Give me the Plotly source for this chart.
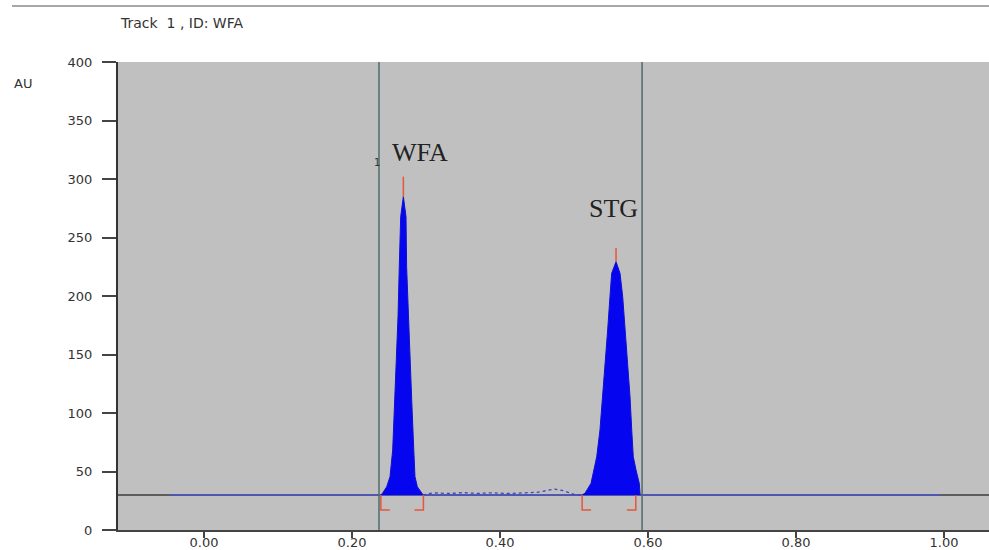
import plotly.graph_objects as go

# ---- data ----
baseline_level = 30
baseline_x = [-0.046, 0.995]

wfa_x = [0.239, 0.2415, 0.2469, 0.2514, 0.2550, 0.2577, 0.2604, 0.2622, 0.2639, 0.2658, 0.2694,
         0.2730, 0.2738, 0.2761, 0.2784, 0.2807, 0.2835, 0.2851, 0.2883, 0.2934, 0.296]
wfa_y = [30, 31.6, 37.0, 45.6, 68.4, 111, 139.6, 182.3, 225, 267.8, 285,
         267.8, 225, 182.3, 139.6, 111, 68.4, 45.6, 37.0, 31.6, 30]

stg_x = [0.511, 0.5149, 0.5230, 0.5274, 0.5307, 0.5351, 0.5388, 0.5419, 0.5455, 0.5486, 0.5509, 0.5568,
         0.5622, 0.5658, 0.5693, 0.5726, 0.5757, 0.5780, 0.5801, 0.5838, 0.5882, 0.5892, 0.5895]
stg_y = [30, 31.4, 39.9, 51.3, 62.6, 85.5, 113.9, 142.5, 170.9, 199.4, 219.4, 229.3,
         219.4, 199.4, 170.9, 142.5, 113.9, 85.5, 62.6, 51.3, 39.9, 31.4, 30]

noise_x = [0.296, 0.31, 0.33, 0.35, 0.37, 0.39, 0.41, 0.43, 0.45, 0.462, 0.474, 0.486, 0.495, 0.503, 0.511]
noise_y = [30, 31.8, 31.2, 31.9, 31.3, 31.8, 31.2, 31.9, 32.2, 33.6, 35.0, 33.5, 31.2, 29.8, 30]

window_x = [0.2365, 0.592]

peak_names = ["WFA", "STG"]
peak_pos = [0.2694, 0.5568]
peak_top = [285, 229.3]
peak_mark = [302, 241]
label_x = [0.292, 0.554]
label_y = [323, 275]

bracket_start = [0.239, 0.511]
bracket_end = [0.2965, 0.5835]
bracket_low = 17

x_ticks = [0.0, 0.2, 0.4, 0.6, 0.8, 1.0]
x_ticktext = ["0.00", "0.20", "0.40", "0.60", "0.80", "1.00"]
y_ticks = [0, 50, 100, 150, 200, 250, 300, 350, 400]

BLUE_FILL = "#0505f0"
BLUE_LINE = "#4a55e0"
RED = "#e6553c"
GRID_DARK = "#3c3c3c"
WIN = "#4e6c6c"
TXT = "#333333"
SANS = "DejaVu Sans"

fig = go.Figure()

# dark baseline across whole plot
fig.add_trace(go.Scatter(x=[-0.2, 1.2], y=[baseline_level, baseline_level], mode="lines",
                         line=dict(color=GRID_DARK, width=1.5), hoverinfo="skip", showlegend=False))
# blue signal baseline
fig.add_trace(go.Scatter(x=baseline_x, y=[baseline_level, baseline_level], mode="lines",
                         line=dict(color=BLUE_LINE, width=1.3), showlegend=False))
# noise between peaks
fig.add_trace(go.Scatter(x=noise_x, y=noise_y, mode="lines",
                         line=dict(color="#3a45c8", width=1.3, dash="dot"), showlegend=False))
# peaks
for px_, py_ in [(wfa_x, wfa_y), (stg_x, stg_y)]:
    fig.add_trace(go.Scatter(x=px_, y=py_, mode="lines", fill="toself", fillcolor=BLUE_FILL,
                             line=dict(color="#1010d0", width=1), showlegend=False))

# window lines
for wx in window_x:
    fig.add_shape(type="line", xref="x", yref="y", x0=wx, x1=wx, y0=0, y1=400,
                  line=dict(color=WIN, width=1.5))

# red peak marks
for p, t, m in zip(peak_pos, peak_top, peak_mark):
    fig.add_trace(go.Scatter(x=[p, p], y=[t, m], mode="lines",
                             line=dict(color=RED, width=1.5), showlegend=False))

# red brackets
for s, e in zip(bracket_start, bracket_end):
    fig.add_trace(go.Scatter(x=[s, s, s + 0.012], y=[baseline_level, bracket_low, bracket_low],
                             mode="lines", line=dict(color=RED, width=1.5), showlegend=False))
    fig.add_trace(go.Scatter(x=[e, e, e - 0.012], y=[baseline_level, bracket_low, bracket_low],
                             mode="lines", line=dict(color=RED, width=1.5), showlegend=False))

# peak labels
for n, lx, ly in zip(peak_names, label_x, label_y):
    fig.add_annotation(x=lx, y=ly, xref="x", yref="y", text=n, showarrow=False,
                       font=dict(family="Liberation Serif", size=26, color="#222222"))
fig.add_annotation(x=0.234, y=314, xref="x", yref="y", text="1", showarrow=False,
                   font=dict(family=SANS, size=10, color=TXT))

# title and axis unit
fig.add_annotation(x=0, y=1.083, xref="paper", yref="paper", text="Track  1 , ID: WFA",
                   showarrow=False, xanchor="left", yanchor="middle",
                   font=dict(family=SANS, size=14, color=TXT))
fig.add_annotation(x=-0.1217, y=0.955, xref="paper", yref="paper", text="AU",
                   showarrow=False, xanchor="left", yanchor="middle",
                   font=dict(family=SANS, size=13, color=TXT))
fig.add_shape(type="line", xref="paper", yref="paper", x0=-0.1217, x1=1, y0=1.1197, y1=1.1197,
              line=dict(color="#8a8a8a", width=1.5))

fig.update_layout(
    width=989, height=550,
    margin=dict(l=118, r=0, t=62, b=20, autoexpand=False),
    paper_bgcolor="white", plot_bgcolor="#c0c0c0",
    showlegend=False,
    xaxis=dict(range=[-0.1162, 1.0608], tickvals=x_ticks, ticktext=x_ticktext, automargin=False,
               showgrid=False, zeroline=False, showline=True, linecolor="#444444", linewidth=2,
               ticks="outside", ticklen=6, tickcolor="#444444", tickwidth=1.5,
               ticklabelstandoff=-7,
               tickfont=dict(family=SANS, size=13, color=TXT)),
    yaxis=dict(range=[0, 400], tickvals=y_ticks, automargin=False,
               showgrid=False, zeroline=False, showline=True, linecolor="#333333", linewidth=2,
               ticks="outside", ticklen=14, tickcolor="#444444", tickwidth=1.5,
               ticklabelstandoff=7,
               tickfont=dict(family=SANS, size=13, color=TXT)),
)

fig.write_html("out.html", config={"displayModeBar": False},
               post_script="document.body.style.margin='0px';document.body.style.overflow='hidden';")
